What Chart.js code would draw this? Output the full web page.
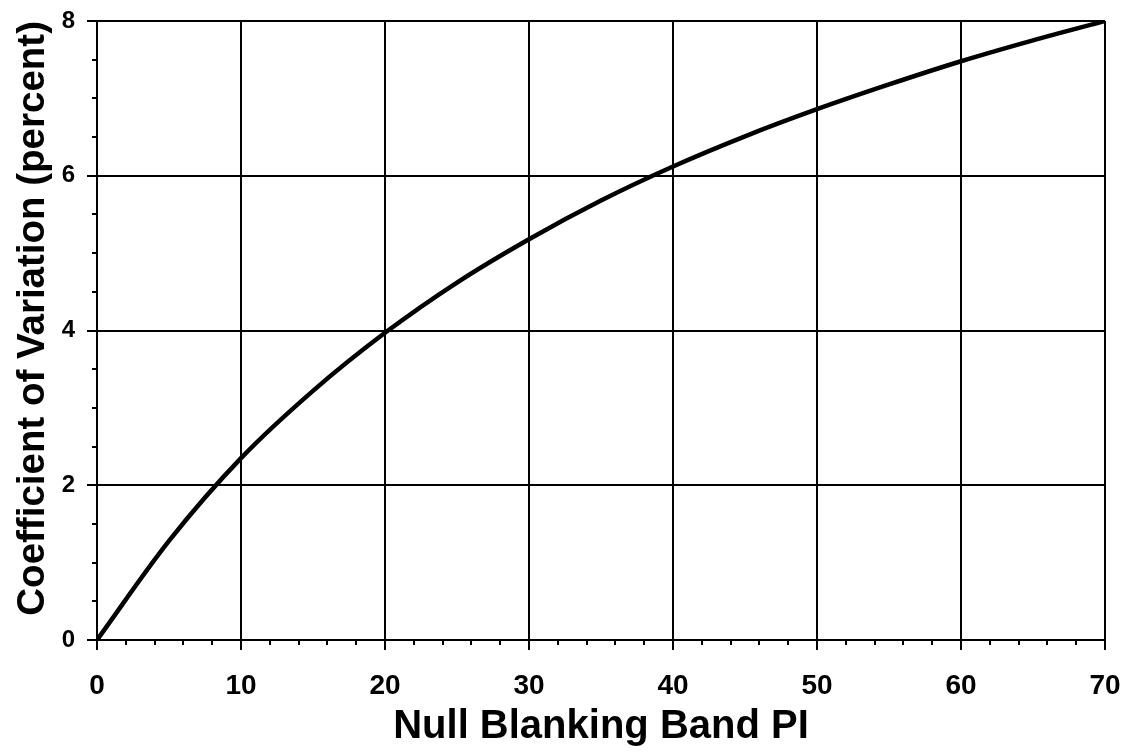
<!DOCTYPE html>
<html>
<head>
<meta charset="utf-8">
<script src="https://cdn.jsdelivr.net/npm/chart.js@4/dist/chart.umd.min.js"></script>
<style>
  html, body { margin: 0; padding: 0; background: #ffffff; }
  #wrap { width: 1139px; height: 754px; position: relative; }
</style>
</head>
<body>
<div id="wrap"><canvas id="cv"></canvas></div>
<script>
// Null blanking band PI vs. coefficient of variation
const bandPI = [0, 5, 10, 15, 20, 25, 30, 35, 40, 45, 50, 55, 60, 65, 70];
const coefVariation = [0, 1.28, 2.35, 3.22, 3.97, 4.62, 5.18, 5.68, 6.12, 6.51, 6.86, 7.18, 7.48, 7.75, 8.0];

const xTickValues = [0, 10, 20, 30, 40, 50, 60, 70];
const yTickValues = [0, 2, 4, 6, 8];
const xMinorStep = 2;
const yMinorStep = 0.5;

const xTitle = 'Null Blanking Band PI';
const yTitle = 'Coefficient of Variation (percent)';

const FONT = '"Liberation Sans", Arial, Helvetica, sans-serif';

// short minor tick marks on the outside of both axes
const minorTicks = {
  id: 'minorTicks',
  afterDraw(chart) {
    const { ctx, scales: { x, y } } = chart;
    ctx.save();
    ctx.strokeStyle = '#000';
    ctx.lineWidth = 2;
    ctx.beginPath();
    const xMin = xTickValues[0], xMax = xTickValues[xTickValues.length - 1];
    for (let v = xMin; v <= xMax + 1e-9; v += xMinorStep) {
      if (xTickValues.includes(v)) continue;
      const px = Math.round(x.getPixelForValue(v));
      ctx.moveTo(px, x.top);
      ctx.lineTo(px, x.top + 5);
    }
    const yMin = yTickValues[0], yMax = yTickValues[yTickValues.length - 1];
    for (let v = yMin; v <= yMax + 1e-9; v += yMinorStep) {
      if (yTickValues.includes(v)) continue;
      const py = Math.round(y.getPixelForValue(v));
      ctx.moveTo(y.right, py);
      ctx.lineTo(y.right - 5, py);
    }
    ctx.stroke();
    ctx.restore();
  }
};

new Chart(document.getElementById('cv'), {
  type: 'line',
  data: {
    datasets: [{
      data: bandPI.map((p, i) => ({ x: p, y: coefVariation[i] })),
      borderColor: '#000',
      borderWidth: 4.5,
      pointRadius: 0,
      cubicInterpolationMode: 'monotone',
      fill: false
    }]
  },
  options: {
    responsive: true,
    maintainAspectRatio: false,
    animation: false,
    layout: { padding: { left: 0, right: 34, top: 21, bottom: 0 } },
    plugins: { legend: { display: false }, tooltip: { enabled: false } },
    scales: {
      x: {
        type: 'linear',
        min: xTickValues[0],
        max: xTickValues[xTickValues.length - 1],
        afterBuildTicks: (s) => { s.ticks = xTickValues.map(v => ({ value: v })); },
        afterFit: (s) => { s.height = 114; s.paddingLeft = 0; s.paddingRight = 0; },
        ticks: {
          color: '#000',
          font: { family: FONT, size: 28, weight: 'bold' },
          padding: 19,
          maxRotation: 0,
          autoSkip: false
        },
        grid: { color: '#000', lineWidth: 2, tickLength: 10, tickColor: '#000' },
        border: { color: '#000', width: 2 },
        title: {
          display: true,
          text: xTitle,
          color: '#000',
          font: { family: FONT, size: 40, weight: 'bold' },
          padding: { top: 0, bottom: 3 }
        }
      },
      y: {
        type: 'linear',
        min: yTickValues[0],
        max: yTickValues[yTickValues.length - 1],
        afterBuildTicks: (s) => { s.ticks = yTickValues.map(v => ({ value: v })); },
        afterFit: (s) => { s.width = 97; s.paddingTop = 0; s.paddingBottom = 0; },
        ticks: {
          color: '#000',
          font: { family: FONT, size: 24, weight: 'bold' },
          padding: 12,
          autoSkip: false
        },
        grid: { color: '#000', lineWidth: 2, tickLength: 10, tickColor: '#000' },
        border: { color: '#000', width: 2 },
        title: {
          display: true,
          text: yTitle,
          align: 'end',
          color: '#000',
          font: { family: FONT, size: 38.5, weight: 'bold' },
          padding: { top: 10, bottom: 0 }
        }
      }
    }
  },
  plugins: [minorTicks]
});
</script>
</body>
</html>
